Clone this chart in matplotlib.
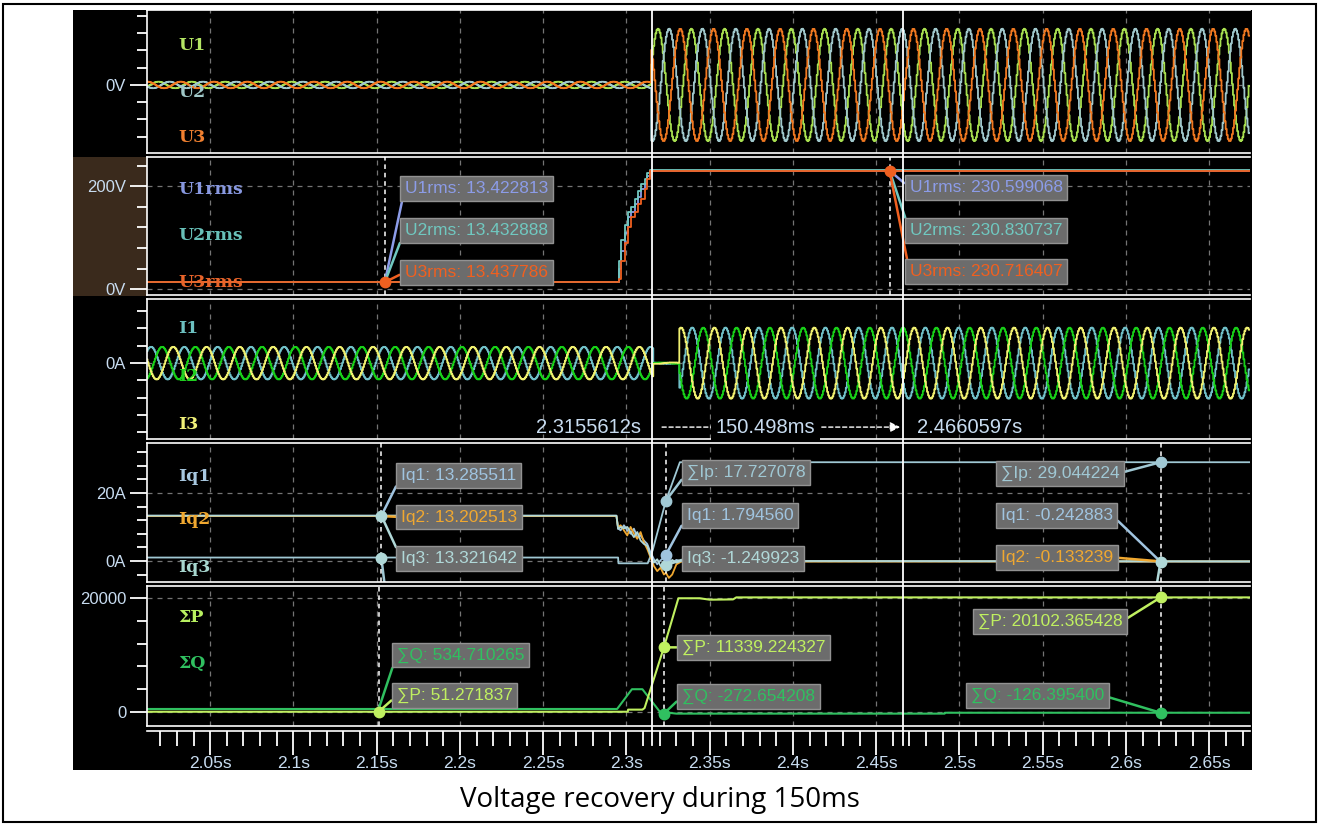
import numpy as np
import matplotlib.pyplot as plt
from matplotlib.lines import Line2D
from matplotlib.patches import Rectangle
from matplotlib.ticker import MultipleLocator, FuncFormatter
from matplotlib.transforms import blended_transform_factory

plt.rcParams['font.family'] = ['Liberation Sans', 'DejaVu Sans']

W, H = 1320, 825

# time window and cursors (s)
t_start, t_end = 2.01207, 2.6745
cursor_a, cursor_b = 2.3155612, 2.4660597

# phase voltages U1..U3
f_grid = 50.0
fs = 1600.0
u_switch = 2.3150
u1_peak = 2.3190
u_rms_pre = [13.42, 13.43, 13.44]
u_rms_post = [230.6, 230.8, 230.7]

# rms voltages
t_urms = [t_start, 2.2946, 2.2958, 2.2970, 2.2990, 2.3010, 2.3030, 2.3050, 2.3070, 2.3090, 2.3110, 2.3125, 2.3140, t_end]
u1rms = [13.42, 13.42, 40, 75, 110, 140, 150, 165, 180, 195, 205, 220, 230.6, 230.6]
u2rms = [13.43, 13.43, 55, 95, 125, 150, 160, 175, 190, 205, 215, 225, 230.8, 230.8]
u3rms = [13.44, 13.44, 20, 55, 90, 120, 140, 150, 165, 175, 195, 215, 230.7, 230.7]
urms_pre_t, urms_pre = 2.1549, [13.422813, 13.432888, 13.437786]
urms_post_t, urms_post = 2.4580, [230.599068, 230.830737, 230.716407]

# phase currents I1..I3
i1_peak = 2.3395
i_gap = (2.3160, 2.3315)
i_rms_pre, i_rms_gap, i_rms_post = 13.3, 0.6, 29.0

# reactive / active currents
t_iq = [t_start, 2.2940, 2.2950, 2.2965, 2.2985, 2.3005, 2.3025, 2.3045, 2.3065, 2.3085, 2.3105,
        2.3125, 2.3145, 2.3165, 2.3185, 2.3205, 2.3225, 2.3237, 2.3255, 2.3275, 2.3300, 2.3330, t_end]
iq1 = [13.29, 13.29, 9.6, 9.0, 10.5, 9.0, 8.0, 9.5, 7.0, 7.5, 6.0, 5.0, 2.5, 0.5, -1.0, 0.2, 1.0,
       1.79456, 0.5, -0.5, 0.3, -0.1, -0.242883]
iq2 = [13.20, 13.20, 9.8, 10.5, 9.0, 7.5, 10.0, 8.0, 6.5, 8.5, 5.5, 3.5, 1.0, -1.5, -3.0, -2.0, -4.0,
       -3.5, -5.0, -4.0, -1.0, -0.2, -0.133239]
iq3 = [13.32, 13.32, 9.4, 10.0, 9.6, 10.0, 8.5, 7.0, 8.5, 6.0, 5.0, 4.5, 1.5, -0.5, 0.5, -1.5, -2.0,
       -1.249923, -1.0, 0.3, -0.5, 0.0, -0.10]
t_ip = [t_start, 2.2950, 2.2952, 2.3128, 2.3158, 2.3237, 2.3321, t_end]
ip_sum = [1.0, 1.0, -0.7, -0.7, 3.2, 17.727078, 29.044224, 29.044224]
iq_pre_t, iq_pre = 2.1528, [13.285511, 13.202513, 13.321642]
iq_rise_t = 2.3237
iq_late_t = 2.6208

# total active / reactive power
t_p = [t_start, 2.3008, 2.3010, 2.3096, 2.3109, 2.3225, 2.3312, 2.3440, 2.3500, 2.3640, 2.3660, t_end]
p_sum = [51.27, 51.27, 420, 420, 700, 11339.224327, 19950, 19950, 19700, 19750, 20102.365428, 20102.365428]
t_q = [t_start, 2.2944, 2.3033, 2.3096, 2.3198, 2.3225, 2.3261, 2.3300, 2.4911, 2.4913, t_end]
q_sum = [534.71, 534.71, 4000, 4000, 150, -272.654208, -150, -280, -280, -126.3954, -126.3954]
pq_pre_t, pq_rise_t, pq_late_t = 2.1512, 2.3225, 2.6208
p_pre, q_pre = 51.271837, 534.710265

# colours
c_u = ['#a8e050', '#a0c8cc', '#f07820']
c_urms = ['#8c9ce8', '#70c8c0', '#f06020']
c_i = ['#70c0c8', '#18d018', '#f0f070']
c_iq = ['#a0c4e0', '#f0a830', '#b0d8d8']
c_ip = '#a0c8d4'
c_p, c_q = '#c0f060', '#30c060'
c_tick = '#c8dcf0'
grid_kw = dict(color='#747474', ls=(0, (4, 4)), lw=0.9)

fig = plt.figure(figsize=(W / 100, H / 100), dpi=100)
fig.patch.set_facecolor('white')
fig.add_artist(Rectangle((3 / W, 3 / H), 1313 / W, 818 / H, transform=fig.transFigure,
                         fill=False, ec='black', lw=1.5))
fig.add_artist(Rectangle((73 / W, 1 - 770 / H), 1179 / W, 760 / H, transform=fig.transFigure,
                         fc='black', ec='none', zorder=0))
fig.add_artist(Rectangle((73 / W, 1 - 296 / H), 74 / W, 139 / H, transform=fig.transFigure,
                         fc='#3a2a1c', ec='none', zorder=0))

L, WD = 147 / W, 1103 / W


def panel(top, bottom, ylim, labeled, minor, fmt):
    ax = fig.add_axes([L, 1 - bottom / H, WD, (bottom - top) / H])
    ax.set_facecolor('black')
    ax.set_xlim(t_start, t_end)
    ax.set_ylim(*ylim)
    for side in ('top', 'bottom', 'left'):
        ax.spines[side].set_color('white')
        ax.spines[side].set_linewidth(1.2)
    ax.spines['right'].set_visible(False)
    ax.xaxis.set_major_locator(MultipleLocator(0.05))
    ax.tick_params(axis='x', which='both', bottom=False, labelbottom=False)
    ax.set_yticks(labeled)
    ax.set_yticklabels([fmt(v) for v in labeled])
    ax.yaxis.set_minor_locator(MultipleLocator(minor))
    ax.tick_params(axis='y', which='major', length=12, width=1.3, color='white',
                   labelcolor=c_tick, labelsize=12, pad=3)
    ax.tick_params(axis='y', which='minor', length=7, width=1.3, color='white')
    ax.grid(axis='x', **grid_kw)
    ax.grid(axis='y', which='major', **grid_kw)
    return ax


def names(ax, items):
    for txt, y, col in items:
        ax.text(0.028, y, txt, transform=ax.transAxes, color=col, fontsize=12.5,
                family='DejaVu Serif', weight='bold', va='center', zorder=8)


def tag(ax, x, y, text, color, dx, dy, relx=0.0):
    ax.annotate(text, xy=(x, y), xytext=(dx, dy), textcoords='offset pixels',
                ha='left', va='center', color=color, fontsize=12.5, zorder=7,
                bbox=dict(boxstyle='square,pad=0.28', fc='#6c6c6c', ec='#929292', lw=1),
                arrowprops=dict(arrowstyle='-', color=color, lw=1.8, shrinkA=0, shrinkB=0,
                                relpos=(relx, 0.5)))


def dot(ax, x, y, color):
    ax.plot([x], [y], 'o', ms=7.5, color=color, zorder=9)


def marker_line(ax, x):
    ax.axvline(x, color='white', ls=(0, (3, 2.5)), lw=1.1, zorder=3)


# waveforms
t = np.arange(t_start, t_end, 1 / fs)
w = 2 * np.pi * f_grid


def phase(t_peak, k, rms_pre, rms_post, switch, gap=None, rms_gap=0.0):
    rms = np.where(t < switch, rms_pre, rms_post)
    if gap is not None:
        rms = np.where((t >= gap[0]) & (t < gap[1]), rms_gap, rms)
    return np.sqrt(2) * rms * np.cos(w * (t - t_peak) - k * 2 * np.pi / 3)


# U panel
ax1 = panel(10, 153, (-395, 435), [0], 100, lambda v: '0V')
for k in range(3):
    ax1.plot(t, phase(u1_peak, k, u_rms_pre[k], u_rms_post[k], u_switch),
             color=c_u[k], lw=1.3, drawstyle='steps-mid')
names(ax1, [('U1', 0.755, '#b4e664'), ('U2', 0.42, '#a0c8c8'), ('U3', 0.105, '#f08030')])

# Urms panel
ax2 = panel(157, 295, (-11.5, 257), [0, 200], 40, lambda v: f'{v:g}V')
for vals, col in zip([u1rms, u2rms, u3rms], c_urms):
    ax2.plot(t_urms, vals, color=col, lw=1.3, drawstyle='steps-post')
names(ax2, [('U1rms', 0.768, '#8898e0'), ('U2rms', 0.428, '#68c0b8'), ('U3rms', 0.087, '#e8642a')])
marker_line(ax2, urms_pre_t)
marker_line(ax2, urms_post_t)
for k, dy in enumerate([94, 52, 10]):
    tag(ax2, urms_pre_t, urms_pre[k], f'U{k + 1}rms: {urms_pre[k]:.6f}', c_urms[k], 20, dy)
for k, dy in enumerate([-17, -60, -101]):
    tag(ax2, urms_post_t, urms_post[k], f'U{k + 1}rms: {urms_post[k]:.6f}', c_urms[k], 20, dy)
dot(ax2, urms_pre_t, urms_pre[2], c_urms[2])
dot(ax2, urms_post_t, urms_post[2], c_urms[2])

# I panel
ax3 = panel(299, 439, (-87.5, 74), [0], 20, lambda v: '0A')
for k in range(3):
    pre_peak = i1_peak - 0.005
    wave = np.where(t < i_gap[1],
                    phase(pre_peak, k, i_rms_pre, i_rms_gap, i_gap[0]),
                    phase(i1_peak, k, i_rms_post, i_rms_post, i_gap[1]))
    ax3.plot(t, wave, color=c_i[k], lw=1.3, drawstyle='steps-mid')
names(ax3, [('I1', 0.787, '#6cc0c0'), ('I2', 0.447, '#20d020'), ('I3', 0.106, '#f0f078')])

ytxt = 0.085
blend3 = ax3.get_xaxis_transform()
ax3.annotate(f'{cursor_a:.7f}s', xy=(cursor_a, ytxt), xycoords=blend3, xytext=(-11, 0),
             textcoords='offset pixels', ha='right', va='center', color=c_tick, fontsize=14.5)
ax3.annotate(f'{cursor_b:.7f}s', xy=(cursor_b, ytxt), xycoords=blend3, xytext=(14, 0),
             textcoords='offset pixels', ha='left', va='center', color=c_tick, fontsize=14.5)
ax3.annotate('', xy=(cursor_b, ytxt), xycoords=blend3, xytext=(cursor_a, ytxt),
             arrowprops=dict(arrowstyle='-|>,head_length=0.6,head_width=0.3', color='white',
                             lw=1.0, ls=(0, (3, 2)), shrinkA=7, shrinkB=2))
span_ms = int((cursor_b - cursor_a) * 1e6) / 1e3
ax3.annotate(f'{span_ms:.3f}ms', xy=((cursor_a + cursor_b) / 2, ytxt), xycoords=blend3,
             xytext=(-12, 0), textcoords='offset pixels', ha='center', va='center',
             color=c_tick, fontsize=14.5,
             bbox=dict(boxstyle='square,pad=0.25', fc='black', ec='none'))

# Iq panel
ax4 = panel(443, 582, (-6.2, 34.7), [0, 20], 4, lambda v: f'{v:g}A')
ax4.plot(t_ip, ip_sum, color=c_ip, lw=1.3)
for vals, col in zip([iq1, iq2, iq3], c_iq):
    ax4.plot(t_iq, vals, color=col, lw=1.3)
names(ax4, [('Iq1', 0.759, '#a8c8e0'), ('Iq2', 0.447, '#f0a830'), ('Iq3', 0.106, '#a8d8d0')])
for x in (iq_pre_t, iq_rise_t, iq_late_t):
    marker_line(ax4, x)

for k, dy in enumerate([40, -1, -43]):
    tag(ax4, iq_pre_t, iq_pre[k], f'Iq{k + 1}: {iq_pre[k]:.6f}', c_iq[k], 20, dy)
ax4.plot([iq_pre_t, iq_pre_t + 0.0025], [ip_sum[0], -9], color=c_ip, lw=1.8)
dot(ax4, iq_pre_t, iq_pre[2], c_iq[2])
dot(ax4, iq_pre_t, ip_sum[0], c_iq[2])

tag(ax4, iq_rise_t, ip_sum[5], f'\u2211Ip: {ip_sum[5]:.6f}', c_ip, 21, 28)
tag(ax4, iq_rise_t, iq1[17], f'Iq1: {iq1[17]:.6f}', c_iq[0], 21, 39)
tag(ax4, iq_rise_t, iq3[17], f'Iq3: {iq3[17]:.6f}', c_iq[2], 21, 7)
dot(ax4, iq_rise_t, ip_sum[5], c_ip)
dot(ax4, iq_rise_t, iq3[17], c_iq[2])
dot(ax4, iq_rise_t, iq1[17], c_iq[0])

tag(ax4, iq_late_t, ip_sum[-1], f'\u2211Ip: {ip_sum[-1]:.6f}', c_ip, -160, -11, relx=1.0)
tag(ax4, iq_late_t, iq1[-1], f'Iq1: {iq1[-1]:.6f}', c_iq[0], -160, 46, relx=1.0)
tag(ax4, iq_late_t, iq2[-1], f'Iq2: {iq2[-1]:.6f}', c_iq[1], -160, 4, relx=1.0)
ax4.plot([iq_late_t, iq_late_t - 0.003], [iq3[-1], -9], color=c_iq[2], lw=1.8)
dot(ax4, iq_late_t, ip_sum[-1], c_ip)
dot(ax4, iq_late_t, iq1[-1], c_iq[2])

# P / Q panel
ax5 = panel(586, 726, (-2450, 22100), [0, 20000], 4000, lambda v: f'{v:g}')
ax5.plot(t_q, q_sum, color=c_q, lw=1.5)
ax5.plot(t_p, p_sum, color=c_p, lw=1.5)
names(ax5, [('\u03a3P', 0.773, '#b8f060'), ('\u03a3Q', 0.447, '#30c060')])
for x in (pq_pre_t, pq_rise_t, pq_late_t):
    marker_line(ax5, x)

tag(ax5, pq_pre_t, q_pre, f'\u2211Q: {q_pre:.6f}', c_q, 18, 54)
tag(ax5, pq_pre_t, p_pre, f'\u2211P: {p_pre:.6f}', c_p, 18, 16)
dot(ax5, pq_pre_t, p_pre, c_p)

tag(ax5, pq_rise_t, p_sum[5], f'\u2211P: {p_sum[5]:.6f}', c_p, 18, 0)
tag(ax5, pq_rise_t, q_sum[5], f'\u2211Q: {q_sum[5]:.6f}', c_q, 18, 17)
dot(ax5, pq_rise_t, p_sum[5], c_p)
dot(ax5, pq_rise_t, q_sum[5], c_q)

tag(ax5, pq_late_t, p_sum[-1], f'\u2211P: {p_sum[-1]:.6f}', c_p, -183, -24, relx=1.0)
tag(ax5, pq_late_t, q_sum[-1], f'\u2211Q: {q_sum[-1]:.6f}', c_q, -190, 17, relx=1.0)
dot(ax5, pq_late_t, p_sum[-1], c_p)
dot(ax5, pq_late_t, q_sum[-1], c_q)

# time axis
axx = fig.add_axes([L, 1 - 731 / H, WD, 1 / H])
axx.set_facecolor('none')
axx.set_xlim(t_start, t_end)
for side in ('top', 'left', 'right'):
    axx.spines[side].set_visible(False)
axx.spines['bottom'].set_color('white')
axx.spines['bottom'].set_linewidth(1.2)
axx.set_yticks([])
axx.xaxis.set_major_locator(MultipleLocator(0.05))
axx.xaxis.set_minor_locator(MultipleLocator(0.01))
axx.xaxis.set_major_formatter(FuncFormatter(lambda v, _: f'{v:g}s'))
axx.tick_params(axis='x', which='major', length=17, width=1.3, color='white',
                labelcolor=c_tick, labelsize=12.5, pad=1)
axx.tick_params(axis='x', which='minor', length=11, width=1.3, color='white')

# cursor lines across all panels
cur_tr = blended_transform_factory(ax5.transData, fig.transFigure)
for x in (cursor_a, cursor_b):
    fig.add_artist(Line2D([x, x], [1 - 10 / H, 1 - 745 / H], transform=cur_tr,
                          color='white', lw=1.3, zorder=5))

fig.text(0.5, 1 - 800 / H, 'Voltage recovery during 150ms', ha='center', va='center',
         fontsize=20, family='Open Sans', color='black')

fig.savefig('out.png', dpi=100, facecolor='white')
